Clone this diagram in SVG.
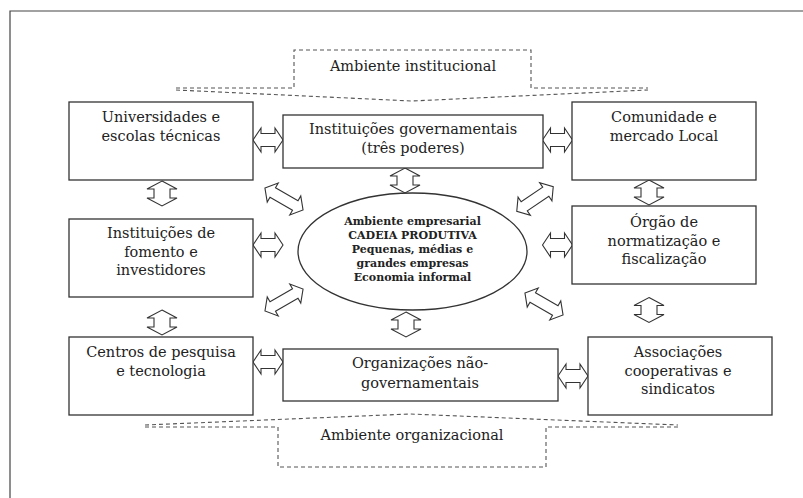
<svg xmlns="http://www.w3.org/2000/svg" xmlns:xlink="http://www.w3.org/1999/xlink" width="803" height="498" viewBox="0 0 803 498">
  <style>
    .frame { fill: none; stroke: #444; stroke-width: 1.2; }
    .box { fill: #fff; stroke: #333; stroke-width: 1.3; }
    .dash { fill: none; stroke: #555; stroke-width: 1.1; stroke-dasharray: 4 3; }
    .arr { fill: #fff; stroke: #333; stroke-width: 1.1; stroke-linejoin: miter; }
    .lbl { font-family: "DejaVu Serif", "Liberation Serif", serif; font-size: 14.5px; fill: #222; text-anchor: middle; }
    .core { font-family: "DejaVu Serif", "Liberation Serif", serif; font-size: 11px; font-weight: bold; fill: #222; text-anchor: middle; }
  </style>
  <defs>
    <!-- double-headed hollow block arrows, centred on the origin, pointing along x -->
    <path id="arrH" class="arr" d="M-15 0 L-7 -12 L-7 -6.5 L7 -6.5 L7 -12 L15 0 L7 12 L7 6.5 L-7 6.5 L-7 12 Z"/>
    <path id="arrV" class="arr" d="M-12.5 0 L-4.5 -15 L-4.5 -8 L4.5 -8 L4.5 -15 L12.5 0 L4.5 15 L4.5 8 L-4.5 8 L-4.5 15 Z"/>
    <path id="arrD" class="arr" d="M-22 0 L-13 -11 L-13 -5.5 L13 -5.5 L13 -11 L22 0 L13 11 L13 5.5 L-13 5.5 L-13 11 Z"/>
  </defs>

  <rect width="803" height="498" fill="#fff"/>
  <path class="frame" d="M10 498 V11 H803"/>

  <!-- institutional environment (top) -->
  <g id="ambiente-institucional">
    <path class="dash" d="M176 88 H294 V50 H531 V88 H648"/>
    <path class="dash" d="M176 90 L412 101 L648 90"/>
    <text class="lbl" x="413" y="71">Ambiente institucional</text>
  </g>

  <!-- organizational environment (bottom) -->
  <g id="ambiente-organizacional">
    <path class="dash" d="M145 427 H278 V467 H546 V427 H678"/>
    <path class="dash" d="M145 425 L410 414 L678 425"/>
    <text class="lbl" x="412" y="440">Ambiente organizacional</text>
  </g>

  <!-- connectors -->
  <g id="connectors">
    <use xlink:href="#arrH" href="#arrH" transform="translate(268 140)"/>
    <use xlink:href="#arrH" href="#arrH" transform="translate(557.5 140)"/>
    <use xlink:href="#arrH" href="#arrH" transform="translate(268 245)"/>
    <use xlink:href="#arrH" href="#arrH" transform="translate(557.5 245)"/>
    <use xlink:href="#arrH" href="#arrH" transform="translate(268 362)"/>
    <use xlink:href="#arrH" href="#arrH" transform="translate(573 376)"/>

    <use xlink:href="#arrV" href="#arrV" transform="translate(162 193.5) rotate(90)"/>
    <use xlink:href="#arrV" href="#arrV" transform="translate(162 322.5) rotate(90)"/>
    <use xlink:href="#arrV" href="#arrV" transform="translate(405 180.5) rotate(90)"/>
    <use xlink:href="#arrV" href="#arrV" transform="translate(406 324.5) rotate(90)"/>
    <use xlink:href="#arrV" href="#arrV" transform="translate(649 192.5) rotate(90)"/>
    <use xlink:href="#arrV" href="#arrV" transform="translate(649 310) rotate(90)"/>

    <use xlink:href="#arrD" href="#arrD" transform="translate(284 199) rotate(30)"/>
    <use xlink:href="#arrD" href="#arrD" transform="translate(535 199) rotate(-34)"/>
    <use xlink:href="#arrD" href="#arrD" transform="translate(284 300) rotate(-30)"/>
    <use xlink:href="#arrD" href="#arrD" transform="translate(544 304) rotate(30)"/>
  </g>

  <!-- centre: productive chain -->
  <g id="cadeia-produtiva">
    <ellipse cx="412.5" cy="251.5" rx="114.5" ry="58.5" fill="#fff" stroke="#333" stroke-width="1.3"/>
    <text class="core" x="412.5" y="225">Ambiente empresarial</text>
    <text class="core" x="412.5" y="239">CADEIA PRODUTIVA</text>
    <text class="core" x="412.5" y="253">Pequenas, médias e</text>
    <text class="core" x="412.5" y="267">grandes empresas</text>
    <text class="core" x="412.5" y="281">Economia informal</text>
  </g>

  <g id="universidades">
    <rect class="box" x="69" y="102" width="184" height="78"/>
    <text class="lbl" x="161" y="122">Universidades e</text>
    <text class="lbl" x="161" y="141">escolas técnicas</text>
  </g>

  <g id="governamentais">
    <rect class="box" x="283" y="115" width="260" height="53"/>
    <text class="lbl" x="413" y="134">Instituições governamentais</text>
    <text class="lbl" x="413" y="153">(três poderes)</text>
  </g>

  <g id="comunidade">
    <rect class="box" x="572" y="102" width="184" height="78"/>
    <text class="lbl" x="664" y="122">Comunidade e</text>
    <text class="lbl" x="664" y="141">mercado Local</text>
  </g>

  <g id="fomento">
    <rect class="box" x="69" y="219" width="184" height="78"/>
    <text class="lbl" x="161" y="238">Instituições de</text>
    <text class="lbl" x="161" y="256.5">fomento e</text>
    <text class="lbl" x="161" y="275">investidores</text>
  </g>

  <g id="orgao">
    <rect class="box" x="572" y="206" width="184" height="78"/>
    <text class="lbl" x="664" y="227">Órgão de</text>
    <text class="lbl" x="664" y="245.5">normatização e</text>
    <text class="lbl" x="664" y="264">fiscalização</text>
  </g>

  <g id="centros">
    <rect class="box" x="69" y="337" width="184" height="78"/>
    <text class="lbl" x="161" y="357">Centros de pesquisa</text>
    <text class="lbl" x="161" y="375.5">e tecnologia</text>
  </g>

  <g id="ongs">
    <rect class="box" x="283" y="349" width="275" height="52"/>
    <text class="lbl" x="420" y="368">Organizações não-</text>
    <text class="lbl" x="420" y="388">governamentais</text>
  </g>

  <g id="associacoes">
    <rect class="box" x="588" y="337" width="184" height="78"/>
    <text class="lbl" x="678" y="357">Associações</text>
    <text class="lbl" x="678" y="375.5">cooperativas e</text>
    <text class="lbl" x="678" y="394">sindicatos</text>
  </g>
</svg>
